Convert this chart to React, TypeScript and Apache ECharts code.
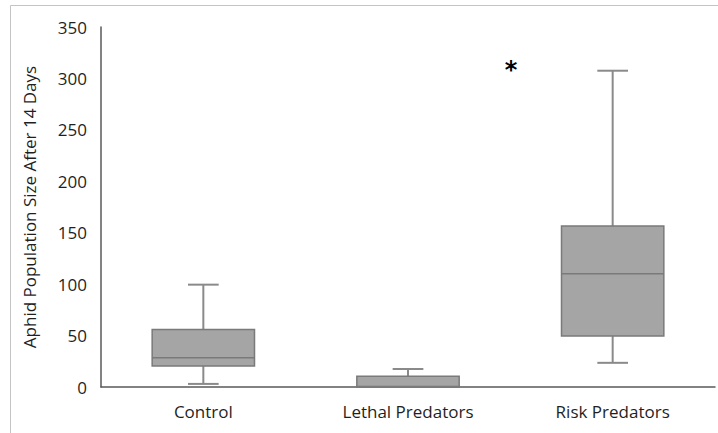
import React, { useEffect, useRef } from "react";
import * as echarts from "echarts";

const categories = ["Control", "Lethal Predators", "Risk Predators"];
// [min, Q1, median, Q3, max]
const boxValues: number[][] = [
  [3, 20.5, 28.5, 56, 99.5],
  [0, 0, 0.5, 10.5, 17.5],
  [23.5, 49.5, 110, 156.5, 307.5],
];
const yTicks = { min: 0, max: 350, interval: 50 };
const yTitle = "Aphid Population Size After 14 Days";
const annotation = "*";

export default function App() {
  const ref = useRef<HTMLDivElement>(null);
  useEffect(() => {
    if (!ref.current) return;
    const chart = echarts.init(ref.current, null, { renderer: "svg" });
    const font = "'Open Sans', Lato, sans-serif";
    chart.setOption({
      animation: false,
      backgroundColor: "#ffffff",
      grid: { left: 101, right: 3, top: 27, bottom: 46 },
      xAxis: {
        type: "category",
        data: categories,
        axisLine: { show: true, lineStyle: { color: "#595959", width: 1.5 } },
        axisTick: { show: false },
        axisLabel: { color: "#1f1f1f", fontSize: 17, fontFamily: font, margin: 16 },
      },
      yAxis: {
        type: "value",
        min: yTicks.min,
        max: yTicks.max,
        interval: yTicks.interval,
        name: yTitle,
        nameLocation: "middle",
        nameGap: 63,
        nameTextStyle: { color: "#1f1f1f", fontSize: 17, fontFamily: font },
        axisLine: { show: true, lineStyle: { color: "#595959", width: 1.5 } },
        axisTick: { show: false },
        splitLine: { show: false },
        axisLabel: { color: "#1f1f1f", fontSize: 17, fontFamily: font, margin: 14 },
      },
      graphic: [
        { type: "line", shape: { x1: 10.5, y1: 5.5, x2: 718, y2: 5.5 }, style: { stroke: "#c4c4c4", lineWidth: 1 } },
        { type: "line", shape: { x1: 10.5, y1: 5.5, x2: 10.5, y2: 433 }, style: { stroke: "#c4c4c4", lineWidth: 1 } },
        {
          type: "text",
          x: 511,
          y: 70,
          style: {
            text: annotation,
            fontSize: 24,
            fontWeight: "bold",
            fontFamily: "'DejaVu Sans', sans-serif",
            fill: "#000000",
            align: "center",
            verticalAlign: "middle",
          },
        },
      ],
      series: [
        {
          type: "custom",
          data: boxValues.map((v, i) => [i, ...v]),
          encode: { x: 0, y: [1, 2, 3, 4, 5] },
          renderItem: (params: any, api: any) => {
            const c = api.value(0);
            const pMin = api.coord([c, api.value(1)]);
            const pQ1 = api.coord([c, api.value(2)]);
            const pMed = api.coord([c, api.value(3)]);
            const pQ3 = api.coord([c, api.value(4)]);
            const pMax = api.coord([c, api.value(5)]);
            const band = api.size([1, 0])[0];
            const bw = band * 0.5;
            const cw = band * 0.15;
            const x = pMed[0];
            const stroke = "#7a7a7a";
            const children: any[] = [];
            children.push({
              type: "line",
              shape: { x1: x, y1: pQ3[1], x2: x, y2: pMax[1] },
              style: { stroke: "#8a8a8a", lineWidth: 2 },
            });
            children.push({
              type: "line",
              shape: { x1: x - cw / 2, y1: pMax[1], x2: x + cw / 2, y2: pMax[1] },
              style: { stroke: "#8a8a8a", lineWidth: 2 },
            });
            if (pQ1[1] !== pMin[1]) {
              children.push({
                type: "line",
                shape: { x1: x, y1: pQ1[1], x2: x, y2: pMin[1] },
                style: { stroke: "#8a8a8a", lineWidth: 2 },
              });
              children.push({
                type: "line",
                shape: { x1: x - cw / 2, y1: pMin[1], x2: x + cw / 2, y2: pMin[1] },
                style: { stroke: "#8a8a8a", lineWidth: 2 },
              });
            }
            children.push({
              type: "rect",
              shape: { x: x - bw / 2, y: pQ3[1], width: bw, height: pQ1[1] - pQ3[1] },
              style: { fill: "#a5a5a5", stroke, lineWidth: 1.5 },
            });
            children.push({
              type: "line",
              shape: { x1: x - bw / 2, y1: pMed[1], x2: x + bw / 2, y2: pMed[1] },
              style: { stroke, lineWidth: 1.5 },
            });
            return { type: "group", children };
          },
        },
      ],
    });
    return () => chart.dispose();
  }, []);
  return (
    <div
      ref={ref}
      style={{ position: "absolute", left: 0, top: 0, width: 718, height: 433 }}
    />
  );
}
